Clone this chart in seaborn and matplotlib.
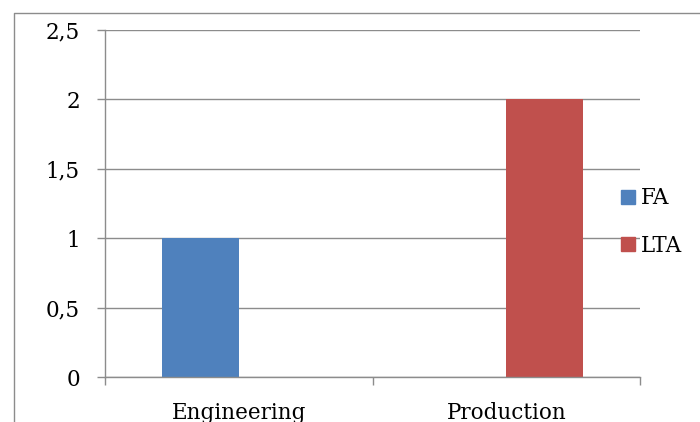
import matplotlib
matplotlib.use("Agg")
import matplotlib.pyplot as plt
from matplotlib.lines import Line2D
from matplotlib.ticker import FuncFormatter
import seaborn as sns
import pandas as pd

# Data
categories = ["Engineering", "Production"]
series = ["FA", "LTA"]
fa_values = [1, 0]
lta_values = [0, 2]
y_ticks = [0, 0.5, 1, 1.5, 2, 2.5]

colors = {"FA": "#4F81BD", "LTA": "#C0504D"}
grid_color = "#8c8c8c"

df = pd.DataFrame({
    "Department": categories * 2,
    "Type": ["FA"] * len(categories) + ["LTA"] * len(categories),
    "Count": fa_values + lta_values,
})

sns.set_style("white")
plt.rcParams["font.family"] = ["DejaVu Serif", "Liberation Serif"]
plt.rcParams["text.color"] = "black"
plt.rcParams["xtick.labelcolor"] = "black"
plt.rcParams["ytick.labelcolor"] = "black"
fs = 15.5

W, H = 700, 422
fig = plt.figure(figsize=(W / 100, H / 100), dpi=100)
ax = fig.add_axes([105 / W, (H - 377) / H, 535 / W, 347 / H])

sns.barplot(data=df, x="Department", y="Count", hue="Type", order=categories,
            hue_order=series, palette=colors, width=0.577, gap=0,
            saturation=1, errorbar=None, ax=ax, legend=False, linewidth=0)

ax.set_xlim(-0.5, 1.5)
ax.set_ylim(0, 2.5)
ax.set_yticks(y_ticks)
ax.yaxis.set_major_formatter(FuncFormatter(
    lambda v, p: (f"{v:g}").replace(".", ",")))
ax.set_axisbelow(True)
ax.yaxis.grid(True, color=grid_color, linewidth=1.0)
ax.xaxis.grid(False)

# Category boundary ticks on the x axis
ax.set_xticks([-0.5, 0.5, 1.5])
ax.set_xticklabels([])
ax.set_xticks([0, 1], minor=True)
ax.set_xticklabels(categories, minor=True, fontsize=fs, color="black")
ax.tick_params(axis="x", which="major", direction="out", length=6,
               width=1, color=grid_color, bottom=True)
ax.tick_params(axis="x", which="minor", length=0, pad=18)
ax.tick_params(axis="y", direction="out", length=6, width=1,
               color=grid_color, left=True, labelsize=fs, pad=12,
               labelcolor="black")

ax.set_xlabel("")
ax.set_ylabel("")
for side in ["top", "right"]:
    ax.spines[side].set_visible(False)
for side in ["left", "bottom"]:
    ax.spines[side].set_color(grid_color)
    ax.spines[side].set_linewidth(1.0)

# Legend at the right
handles = [plt.Rectangle((0, 0), 1, 1, color=colors[s]) for s in series]
fpx = fs * 100 / 72
fig.legend(handles, series, loc="center left",
           bbox_to_anchor=(621 / W, 1 - 222 / H), frameon=False,
           fontsize=fs, borderpad=0, borderaxespad=0,
           handlelength=14 / fpx, handleheight=14 / fpx,
           handletextpad=6 / fpx, labelspacing=(47 - fpx) / fpx,
           labelcolor="black")

# Chart area border
fig.add_artist(Line2D([13.5 / W, 13.5 / W, 1.0], [0, 1 - 12.5 / H, 1 - 12.5 / H],
                      transform=fig.transFigure, color=grid_color, linewidth=1.0))

fig.savefig("out.png", dpi=100)
